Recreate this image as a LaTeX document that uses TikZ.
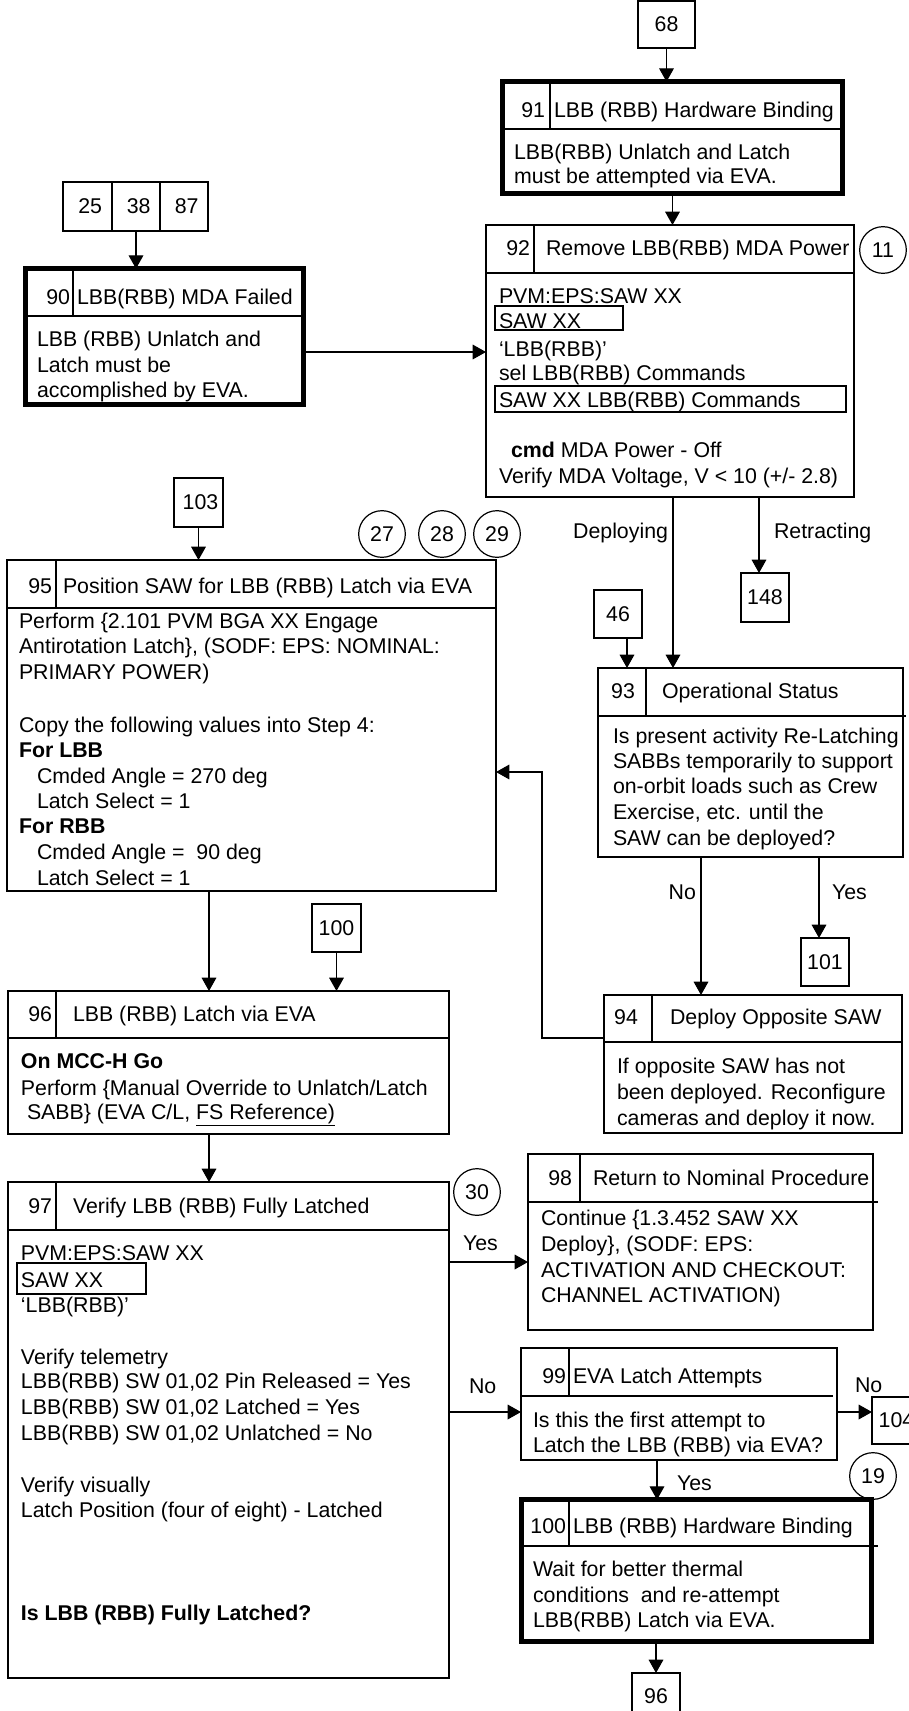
\documentclass[tikz,border=0pt]{standalone}
\usepackage{fontspec}
\setmainfont{Liberation Sans}
\usetikzlibrary{arrows.meta,positioning,calc,fit}

\begin{document}
\begin{tikzpicture}[x=0.75pt,y=-0.75pt,
    font=\fontsize{16}{19.2}\selectfont,
    every node/.style={inner sep=0pt, outer sep=0pt},
    stepbox/.style={draw, line width=0.9pt},
    hardbox/.style={draw, line width=4pt},
    refbox/.style={draw, line width=0.9pt},
    subbox/.style={draw, line width=0.9pt},
    conn/.style={draw, circle, line width=0.9pt, minimum size=35pt},
    txt/.style={anchor=base west},
    numr/.style={anchor=base east},
    numc/.style={anchor=base},
    sepline/.style={line width=0.9pt},
    arr/.style={line width=0.9pt, -{Triangle[length=10pt,width=11pt]}}]
        \useasboundingbox (0,0) rectangle (908,1711);

        \node[refbox, fit={(638,1) (695,48)}, label={center:68}] (r68) {};
        \foreach \n/\a/\b in {25/63/112,38/112/160,87/160/208}
          \node[refbox, fit={(\a,182) (\b,231)}, label={[xshift=2pt]center:\n}] (r\n) {};
        \node[refbox, fit={(174,478) (223,527)}, label={[xshift=1.5pt]center:103}] (r103) {};
        \node[refbox, fit={(594,590) (642,638)}, label={center:46}] (r46) {};
        \node[refbox, fit={(741,573) (789,622)}, label={center:148}] (r148) {};
        \node[refbox, fit={(801,938) (849,986)}, label={center:101}] (r101) {};
        \node[refbox, fit={(312,904) (361,952)}, label={center:100}] (r100) {};
        \node[refbox, fit={(872,1397) (921,1444)}, label={center:104}] (r104) {};
        \node[refbox, fit={(632,1673) (680,1720)}, label={center:96}] (r96) {};

        \node[conn] (c11) at (883,250) {11};
        \node[conn] (c27) at (382,534) {27};
        \node[conn] (c28) at (442,534) {28};
        \node[conn] (c29) at (497,534) {29};
        \node[conn] (c30) at (477,1192) {30};
        \node[conn] (c19) at (873,1476) {19};

        \node[hardbox, fit={(502.7,81.7) (842.3,193.3)}] (b91) {};
        \draw[sepline] (502.7,129) -- (842.3,129);
        \draw[sepline] (550,81.7) -- (550,129);
        \node[numr] (n91) at (545,117) {91};
        \node[txt] (t91) at (554,117) {LBB (RBB) Hardware Binding};
        \foreach \y/\t in {159/{LBB(RBB) Unlatch and Latch},183/{must be attempted via EVA.}}
          \node[txt] (b91t\y) at (514,\y) {\t};

        \node[hardbox, fit={(25.7,268.7) (303.3,404.3)}] (b90) {};
        \draw[sepline] (25.7,316) -- (303.3,316);
        \draw[sepline] (73,268.7) -- (73,316);
        \node[numr] (n90) at (70,304) {90};
        \node[txt] (t90) at (77,304) {LBB(RBB) MDA Failed};
        \foreach \y/\t in {346/{LBB (RBB) Unlatch and},372/{Latch must be},397/{accomplished by EVA.}}
          \node[txt] (b90t\y) at (37,\y) {\t};

        \node[stepbox, fit={(486,225) (854,497)}] (b92) {};
        \draw[sepline] (486,273) -- (854,273);
        \draw[sepline] (534,225) -- (534,273);
        \node[numr] (n92) at (530,255) {92};
        \node[txt] (t92) at (546,255) {Remove LBB(RBB) MDA Power};
        \node[subbox, fit={(495,306) (623,330)}] (sw92) {};
        \node[subbox, fit={(495,386) (846,412)}] (cm92) {};
        \foreach \x/\y/\t in {499/303/{PVM:EPS:SAW XX},499/328/{SAW XX},499/356/{‘LBB(RBB)’},
            499/380/{sel LBB(RBB) Commands},499/407/{SAW XX LBB(RBB) Commands},
            511/457/{\textbf{cmd} MDA Power - Off},499/483/{Verify MDA Voltage, V < 10 (+/- 2.8)}}
          \node[txt] (b92t\y) at (\x,\y) {\t};

        \node[stepbox, fit={(7,560) (496,891)}] (b95) {};
        \draw[sepline] (7,608) -- (496,608);
        \draw[sepline] (56,560) -- (56,608);
        \node[numr] (n95) at (52,593) {95};
        \node[txt] (t95) at (63,593) {Position SAW for LBB (RBB) Latch via EVA};
        \foreach \x/\y/\t in {19/628/{Perform \{2.101 PVM BGA XX Engage},
            19/653/{Antirotation Latch\}, (SODF: EPS: NOMINAL:},19/679/{PRIMARY POWER)},
            19/732/{Copy the following values into Step 4:},19/757/{\textbf{For LBB}},
            37/783/{Cmded Angle = 270 deg},37/808/{Latch Select = 1},19/833/{\textbf{For RBB}},
            37/859/{Cmded Angle = \ 90 deg},37/885/{Latch Select = 1}}
          \node[txt] (b95t\y) at (\x,\y) {\t};

        \node[stepbox, fit={(598,668) (903,857)}] (b93) {};
        \draw[sepline] (598,716) -- (906,716);
        \draw[sepline] (646,668) -- (646,716);
        \node[numc] (n93) at (623,698) {93};
        \node[txt] (t93) at (662,698) {Operational Status};
        \foreach \y/\t in {743/{Is present activity Re-Latching},768/{SABBs temporarily to support},
            793/{on-orbit loads such as Crew},819/{Exercise, etc. until the},845/{SAW can be deployed?}}
          \node[txt] (b93t\y) at (613,\y) {\t};

        \node[stepbox, fit={(604,995) (902,1133)}] (b94) {};
        \draw[sepline] (604,1042) -- (902,1042);
        \draw[sepline] (652,995) -- (652,1042);
        \node[numc] (n94) at (626,1024) {94};
        \node[txt] (t94) at (670,1024) {Deploy Opposite SAW};
        \foreach \y/\t in {1073/{If opposite SAW has not},1099/{been deployed. Reconfigure},
            1125/{cameras and deploy it now.}}
          \node[txt] (b94t\y) at (617,\y) {\t};

        \node[stepbox, fit={(8,991) (449,1134)}] (b96) {};
        \draw[sepline] (8,1038) -- (449,1038);
        \draw[sepline] (56,991) -- (56,1038);
        \node[numr] (n96) at (52,1021) {96};
        \node[txt] (t96) at (73,1021) {LBB (RBB) Latch via EVA};
        \foreach \x/\y/\t in {21/1068/{\textbf{On MCC-H Go}},21/1095/{Perform \{Manual Override to Unlatch/Latch},
            27/1119/{SABB\} (EVA C/L, \underline{FS Reference)}}}
          \node[txt] (b96t\y) at (\x,\y) {\t};

        \node[stepbox, fit={(8,1182) (449,1678)}] (b97) {};
        \draw[sepline] (8,1230) -- (449,1230);
        \draw[sepline] (56,1182) -- (56,1230);
        \node[numr] (n97) at (52,1213) {97};
        \node[txt] (t97) at (73,1213) {Verify LBB (RBB) Fully Latched};
        \node[subbox, fit={(17,1263) (146,1294)}] (sw97) {};
        \foreach \y/\t in {1260/{PVM:EPS:SAW XX},1287/{SAW XX},1312/{‘LBB(RBB)’},1364/{Verify telemetry},
            1388/{LBB(RBB) SW 01,02 Pin Released = Yes},1414/{LBB(RBB) SW 01,02 Latched = Yes},
            1440/{LBB(RBB) SW 01,02 Unlatched = No},1492/{Verify visually},
            1517/{Latch Position (four of eight) - Latched},1620/{\textbf{Is LBB (RBB) Fully Latched?}}}
          \node[txt] (b97t\y) at (21,\y) {\t};

        \node[stepbox, fit={(528,1154) (873,1330)}] (b98) {};
        \draw[sepline] (528,1202) -- (878,1202);
        \draw[sepline] (580,1154) -- (580,1202);
        \node[numr] (n98) at (572,1185) {98};
        \node[txt] (t98) at (593,1185) {Return to Nominal Procedure};
        \foreach \y/\t in {1225/{Continue \{1.3.452 SAW XX},1251/{Deploy\}, (SODF: EPS:},
            1277/{ACTIVATION AND CHECKOUT:},1302/{CHANNEL ACTIVATION)}}
          \node[txt] (b98t\y) at (541,\y) {\t};

        \node[stepbox, fit={(521,1348) (837,1460)}] (b99) {};
        \draw[sepline] (521,1396) -- (833,1396);
        \draw[sepline] (569,1348) -- (569,1396);
        \node[numr] (n99) at (566,1383) {99};
        \node[txt] (t99) at (573,1383) {EVA Latch Attempts};
        \foreach \y/\t in {1427/{Is this the first attempt to},1452/{Latch the LBB (RBB) via EVA?}}
          \node[txt] (b99t\y) at (533,\y) {\t};

        \node[hardbox, fit={(521.7,1499.7) (871.3,1641.3)}] (b100) {};
        \draw[sepline] (521.7,1546) -- (878,1546);
        \draw[sepline] (569,1499.7) -- (569,1546);
        \node[numr] (n100) at (566,1533) {100};
        \node[txt] (t100) at (573,1533) {LBB (RBB) Hardware Binding};
        \foreach \y/\t in {1576/{Wait for better thermal},1602/{conditions \ and re-attempt},
            1627/{LBB(RBB) Latch via EVA.}}
          \node[txt] (b100t\y) at (533,\y) {\t};

        \node[numr] (ldep) at (668,538) {Deploying};
        \node[txt] (lret) at (774,538) {Retracting};
        \node[numr] (lno93) at (696,899) {No};
        \node[txt] (lyes93) at (832,899) {Yes};
        \node[txt] (lyes97) at (463,1250) {Yes};
        \node[txt] (lno97) at (469,1393) {No};
        \node[txt] (lno99) at (855,1392) {No};
        \node[txt] (lyes99) at (677,1490) {Yes};

        \coordinate (e90) at (306,352);
        \coordinate (dep) at (673,497);
        \coordinate (ret) at (759,497);
        \coordinate (s46) at (627,638);
        \coordinate (no93) at (701,857);
        \coordinate (yes93) at (819,857);
        \coordinate (w94) at (604,1038);
        \coordinate (k94) at (542,1038);
        \coordinate (k95) at (542,772);
        \coordinate (s95) at (209,891);
        \coordinate (s96) at (209,1134);
        \coordinate (yes97) at (449,1262);
        \coordinate (no97) at (449,1412);
        \coordinate (no99) at (837,1412);
        \coordinate (yes99) at (657,1460);
        \coordinate (s100) at (656,1644);

        \draw[arr] (r68.south) -- (r68.south |- b91.north);
        \draw[arr] (b91.south) -- (b91.south |- b92.north);
        \draw[arr] (r38.south) -- (r38.south |- b90.north);
        \draw[arr] (e90) -- (e90 -| b92.west);
        \draw[arr] (dep) -- (dep |- b93.north);
        \draw[arr] (ret) -- (ret |- r148.north);
        \draw[arr] (s46) -- (s46 |- b93.north);
        \draw[arr] (r103.south) -- (r103.south |- b95.north);
        \draw[arr] (no93) -- (no93 |- b94.north);
        \draw[arr] (yes93) -- (yes93 |- r101.north);
        \draw[arr] (w94) -- (k94) -- (k95) -- (k95 -| b95.east);
        \draw[arr] (s95) -- (s95 |- b96.north);
        \draw[arr] (r100.south) -- (r100.south |- b96.north);
        \draw[arr] (s96) -- (s96 |- b97.north);
        \draw[arr] (yes97) -- (yes97 -| b98.west);
        \draw[arr] (no97) -- (no97 -| b99.west);
        \draw[arr] (no99) -- (no99 -| r104.west);
        \draw[arr] (yes99) -- (yes99 |- b100.north);
        \draw[arr] (s100) -- (s100 |- r96.north);
      \end{tikzpicture}
\end{document}
